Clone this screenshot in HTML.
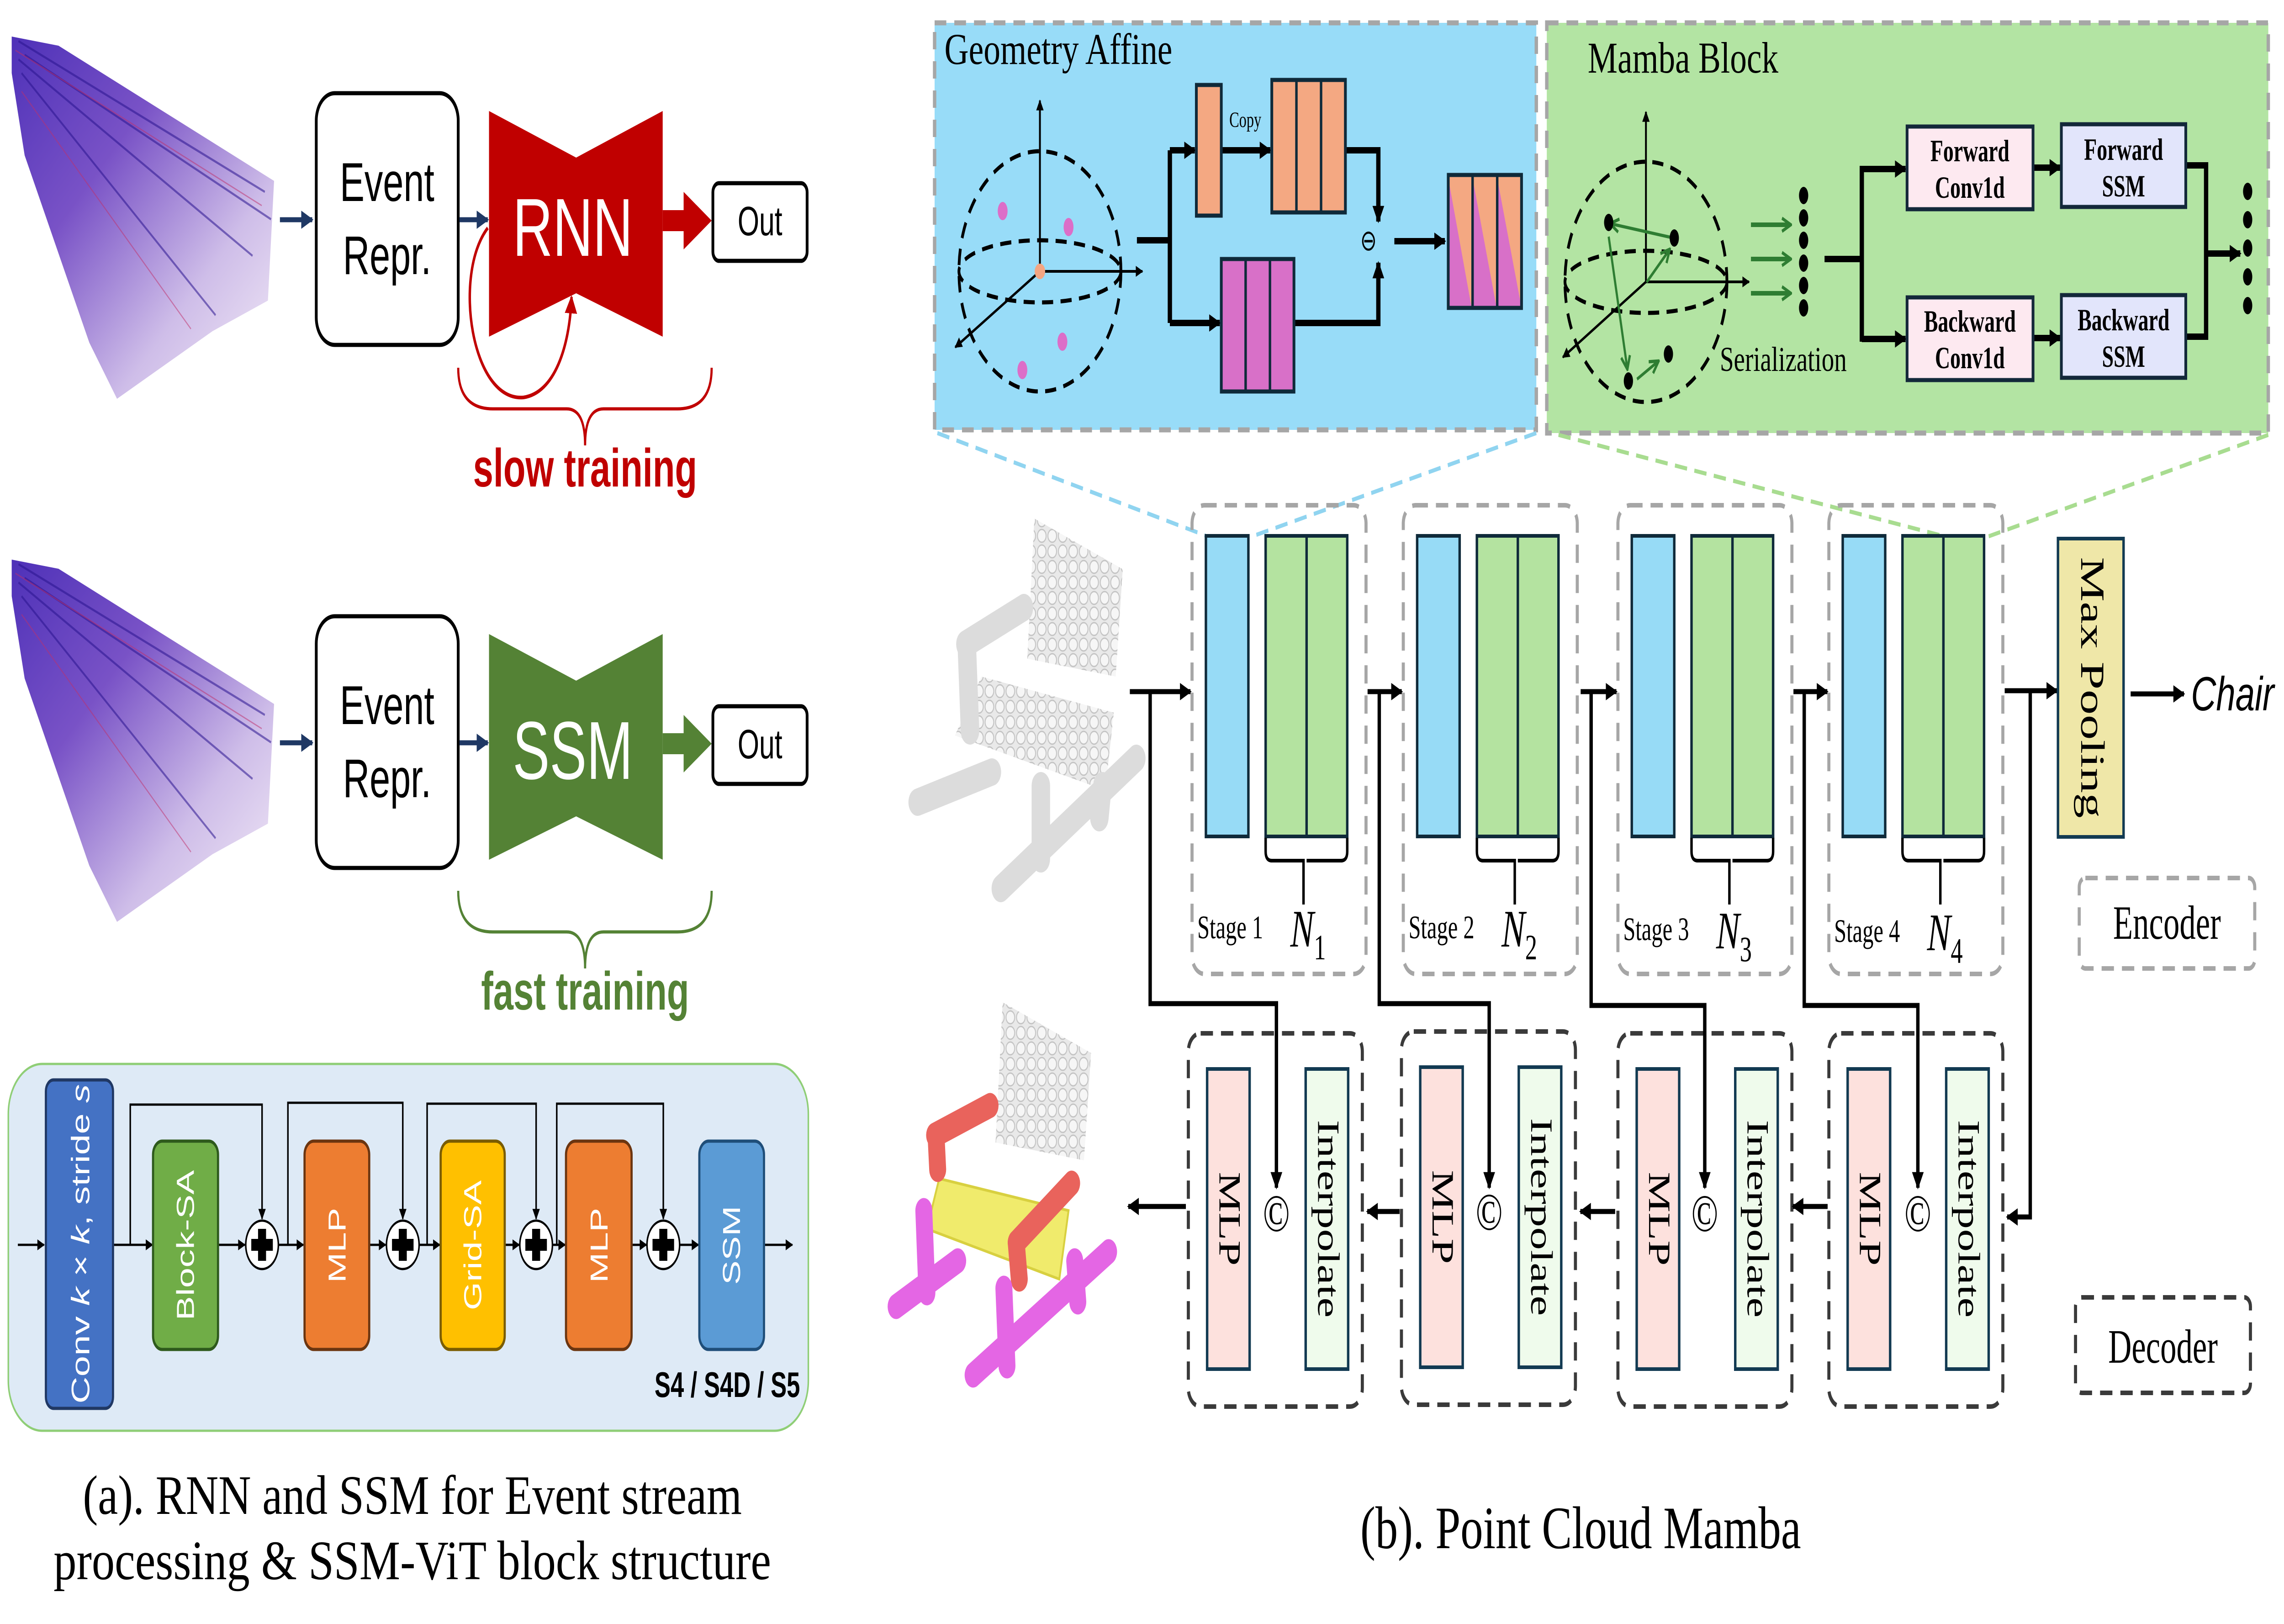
<!DOCTYPE html>
<html><head><meta charset="utf-8"><style>
html,body{margin:0;padding:0;background:#fff;width:100%;height:100%;overflow:hidden}
svg{display:block;width:100vw;height:100vh}
.ser{font-family:"Liberation Serif",serif}
.san{font-family:"Liberation Sans",sans-serif}
</style></head><body>
<svg viewBox="0 0 7417 3555" preserveAspectRatio="none" xmlns="http://www.w3.org/2000/svg">
<defs>
<marker id="ab" viewBox="0 0 10 10" refX="9" refY="5" markerWidth="42" markerHeight="38" markerUnits="userSpaceOnUse" orient="auto"><path d="M0,0L10,5L0,10z" fill="#000"/></marker>
<marker id="as" viewBox="0 0 10 10" refX="9" refY="5" markerWidth="26" markerHeight="24" markerUnits="userSpaceOnUse" orient="auto"><path d="M0,0L10,5L0,10z" fill="#000"/></marker>
<marker id="ag" viewBox="0 0 10 10" refX="8" refY="5" markerWidth="36" markerHeight="36" markerUnits="userSpaceOnUse" orient="auto"><path d="M1,1L9,5L1,9" fill="none" stroke="#2e7d32" stroke-width="2"/></marker>
<marker id="an" viewBox="0 0 10 10" refX="9" refY="5" markerWidth="40" markerHeight="40" markerUnits="userSpaceOnUse" orient="auto"><path d="M0,0L10,5L0,10z" fill="#1f3864"/></marker>
<marker id="ar" viewBox="0 0 10 10" refX="9" refY="5" markerWidth="40" markerHeight="44" markerUnits="userSpaceOnUse" orient="auto"><path d="M0,0L10,5L0,10z" fill="#c00000"/></marker>
<linearGradient id="ev" x1="0" y1="0" x2="1" y2="1">
<stop offset="0" stop-color="#3a1ab0"/><stop offset="0.35" stop-color="#6a3fc0"/><stop offset="0.7" stop-color="#c9b6e6"/><stop offset="1" stop-color="#f4ecf7"/></linearGradient>
<pattern id="dots" width="34" height="34" patternUnits="userSpaceOnUse"><rect width="34" height="34" fill="#e9e9e9"/><circle cx="17" cy="17" r="14" fill="#f6f6f6" stroke="#c4c4c4" stroke-width="3"/></pattern>
</defs>

<!-- ============ LEFT PANEL ============ -->
<g id="cloud">
<polygon points="38,80 190,100 890,396 870,658 690,725 380,873 290,750 80,340 38,160" fill="url(#ev)" opacity="0.9"/>
<g stroke="#2a1490" stroke-width="5" opacity="0.55">
<line x1="60" y1="90" x2="860" y2="420"/><line x1="60" y1="130" x2="820" y2="560"/><line x1="70" y1="160" x2="700" y2="690"/><line x1="80" y1="120" x2="880" y2="480"/></g>
<g stroke="#c0306a" stroke-width="3" opacity="0.5"><line x1="50" y1="110" x2="850" y2="450"/><line x1="70" y1="200" x2="620" y2="720"/></g>
</g>
<use href="#cloud" transform="translate(0,1145)"/>

<!-- row 1 -->
<line x1="909" y1="481" x2="1014" y2="481" stroke="#1f3864" stroke-width="11" marker-end="url(#an)"/>
<rect x="1027" y="204" width="461" height="551" rx="60" fill="#fff" stroke="#000" stroke-width="9"/>
<text x="1257" y="440" font-size="120" text-anchor="middle" class="san">Event</text>
<text x="1257" y="600" font-size="120" text-anchor="middle" class="san">Repr.</text>
<line x1="1492" y1="481" x2="1584" y2="481" stroke="#1f3864" stroke-width="11" marker-end="url(#an)"/>
<polygon points="1588,243 1871,345 2152,243 2152,737 1871,642 1588,737" fill="#c00000"/>
<text x="1860" y="560" font-size="180" fill="#fff" text-anchor="middle" class="san">RNN</text>
<path d="M2152,483 L2225,483" stroke="#c00000" stroke-width="46"/>
<polygon points="2220,420 2311,483 2220,546" fill="#c00000"/>
<rect x="2315" y="401" width="306" height="170" rx="20" fill="#fff" stroke="#000" stroke-width="9"/>
<text x="2468" y="515" font-size="90" text-anchor="middle" class="san">Out</text>
<path d="M1584,499 C1470,600 1530,880 1700,870 C1800,860 1850,760 1856,650" fill="none" stroke="#c00000" stroke-width="8" marker-end="url(#ar)"/>
<path d="M1488,805 Q1488,895 1600,895 L1840,895 Q1900,895 1900,975 Q1900,895 1960,895 L2200,895 Q2311,895 2311,805" fill="none" stroke="#c00000" stroke-width="7"/>
<text x="1900" y="1065" font-size="118" font-weight="bold" fill="#c00000" text-anchor="middle" class="san">slow training</text>

<!-- row 2 -->
<line x1="909" y1="1626" x2="1014" y2="1626" stroke="#1f3864" stroke-width="11" marker-end="url(#an)"/>
<rect x="1027" y="1349" width="461" height="551" rx="60" fill="#fff" stroke="#000" stroke-width="9"/>
<text x="1257" y="1585" font-size="120" text-anchor="middle" class="san">Event</text>
<text x="1257" y="1745" font-size="120" text-anchor="middle" class="san">Repr.</text>
<line x1="1492" y1="1626" x2="1584" y2="1626" stroke="#1f3864" stroke-width="11" marker-end="url(#an)"/>
<polygon points="1588,1388 1871,1490 2152,1388 2152,1882 1871,1787 1588,1882" fill="#548235"/>
<text x="1860" y="1705" font-size="180" fill="#fff" text-anchor="middle" class="san">SSM</text>
<path d="M2152,1628 L2225,1628" stroke="#548235" stroke-width="46"/>
<polygon points="2220,1565 2311,1628 2220,1691" fill="#548235"/>
<rect x="2315" y="1546" width="306" height="170" rx="20" fill="#fff" stroke="#000" stroke-width="9"/>
<text x="2468" y="1660" font-size="90" text-anchor="middle" class="san">Out</text>
<path d="M1488,1950 Q1488,2040 1600,2040 L1840,2040 Q1900,2040 1900,2120 Q1900,2040 1960,2040 L2200,2040 Q2311,2040 2311,1950" fill="none" stroke="#548235" stroke-width="7"/>
<text x="1900" y="2210" font-size="118" font-weight="bold" fill="#548235" text-anchor="middle" class="san">fast training</text>

<!-- SSM-ViT block -->
<rect x="27" y="2329" width="2598" height="803" rx="110" fill="#deeaf6" stroke="#8fce76" stroke-width="5"/>
<g stroke="#000" stroke-width="5" fill="none">
<line x1="58" y1="2725" x2="143" y2="2725" marker-end="url(#as)"/>
<line x1="367" y1="2725" x2="495" y2="2725" marker-end="url(#as)"/>
<line x1="708" y1="2725" x2="795" y2="2725" marker-end="url(#as)"/>
<line x1="905" y1="2725" x2="985" y2="2725" marker-end="url(#as)"/>
<line x1="1199" y1="2725" x2="1252" y2="2725" marker-end="url(#as)"/>
<line x1="1362" y1="2725" x2="1428" y2="2725" marker-end="url(#as)"/>
<line x1="1639" y1="2725" x2="1686" y2="2725" marker-end="url(#as)"/>
<line x1="1796" y1="2725" x2="1835" y2="2725" marker-end="url(#as)"/>
<line x1="2051" y1="2725" x2="2099" y2="2725" marker-end="url(#as)"/>
<line x1="2209" y1="2725" x2="2268" y2="2725" marker-end="url(#as)"/>
<line x1="2481" y1="2725" x2="2573" y2="2725" marker-end="url(#as)"/>
<polyline points="423,2725 423,2418 851,2418 851,2668" marker-end="url(#as)"/>
<polyline points="935,2725 935,2414 1308,2414 1308,2668" marker-end="url(#as)"/>
<polyline points="1387,2725 1387,2416 1741,2416 1741,2668" marker-end="url(#as)"/>
<polyline points="1808,2725 1808,2416 2154,2416 2154,2668" marker-end="url(#as)"/>
</g>
<g>
<circle cx="851" cy="2725" r="53" fill="#fff" stroke="#000" stroke-width="5"/>
<circle cx="1308" cy="2725" r="53" fill="#fff" stroke="#000" stroke-width="5"/>
<circle cx="1741" cy="2725" r="53" fill="#fff" stroke="#000" stroke-width="5"/>
<circle cx="2154" cy="2725" r="53" fill="#fff" stroke="#000" stroke-width="5"/>
<g fill="#000"><path d="M838,2690h26v22h22v26h-22v22h-26v-22h-22v-26h22z"/>
<path d="M1295,2690h26v22h22v26h-22v22h-26v-22h-22v-26h22z"/>
<path d="M1728,2690h26v22h22v26h-22v22h-26v-22h-22v-26h22z"/>
<path d="M2141,2690h26v22h22v26h-22v22h-26v-22h-22v-26h22z"/></g>
</g>
<rect x="149" y="2364" width="218" height="719" rx="25" fill="#4472c4" stroke="#203864" stroke-width="7"/>
<text transform="translate(290,2723) rotate(-90)" font-size="82" fill="#fff" text-anchor="middle" class="san">Conv <tspan font-style="italic">k</tspan> × <tspan font-style="italic">k</tspan>, stride <tspan font-style="italic">s</tspan></text>
<rect x="497" y="2498" width="211" height="456" rx="30" fill="#70ad47" stroke="#2e5a1c" stroke-width="7"/>
<text transform="translate(630,2726) rotate(-90)" font-size="80" fill="#fff" text-anchor="middle" class="san">Block-SA</text>
<rect x="989" y="2498" width="210" height="456" rx="30" fill="#ed7d31" stroke="#6b3510" stroke-width="7"/>
<text transform="translate(1122,2726) rotate(-90)" font-size="80" fill="#fff" text-anchor="middle" class="san">MLP</text>
<rect x="1431" y="2498" width="208" height="456" rx="30" fill="#ffc000" stroke="#7a5c00" stroke-width="7"/>
<text transform="translate(1563,2726) rotate(-90)" font-size="80" fill="#fff" text-anchor="middle" class="san">Grid-SA</text>
<rect x="1838" y="2498" width="213" height="456" rx="30" fill="#ed7d31" stroke="#6b3510" stroke-width="7"/>
<text transform="translate(1973,2726) rotate(-90)" font-size="80" fill="#fff" text-anchor="middle" class="san">MLP</text>
<rect x="2271" y="2498" width="210" height="456" rx="30" fill="#5b9bd5" stroke="#1f4e79" stroke-width="7"/>
<text transform="translate(2403,2726) rotate(-90)" font-size="80" fill="#fff" text-anchor="middle" class="san">SSM</text>
<text x="2598" y="3058" font-size="78" font-weight="bold" text-anchor="end" class="san">S4 / S4D / S5</text>

<text x="1339" y="3314" font-size="122" text-anchor="middle" class="ser" textLength="2140" lengthAdjust="spacingAndGlyphs">(a). RNN and SSM for Event stream</text>
<text x="1339" y="3457" font-size="122" text-anchor="middle" class="ser" textLength="2330" lengthAdjust="spacingAndGlyphs">processing &amp; SSM-ViT block structure</text>

<!-- ============ RIGHT PANEL ============ -->
<rect x="3035" y="50" width="1954" height="891" fill="#98dcf8" stroke="#a6a6a6" stroke-width="11" stroke-dasharray="38,26"/>
<text x="3067" y="140" font-size="96" class="ser" textLength="740" lengthAdjust="spacingAndGlyphs">Geometry Affine</text>
<g fill="none" stroke="#000" stroke-width="9" stroke-dasharray="36,24">
<circle cx="3377" cy="594" r="263"/>
<ellipse cx="3377" cy="594" rx="263" ry="68"/></g>
<g stroke="#000" stroke-width="6" fill="none">
<line x1="3377" y1="594" x2="3377" y2="220" marker-end="url(#as)"/>
<line x1="3377" y1="594" x2="3710" y2="594" marker-end="url(#as)"/>
<line x1="3377" y1="594" x2="3102" y2="760" marker-end="url(#as)"/></g>
<circle cx="3377" cy="594" r="17" fill="#f4a582"/>
<g fill="#dc6ec8"><ellipse cx="3256" cy="462" rx="16" ry="20"/><ellipse cx="3470" cy="497" rx="16" ry="20"/><ellipse cx="3450" cy="748" rx="16" ry="20"/><ellipse cx="3320" cy="810" rx="16" ry="20"/></g>
<g stroke="#000" stroke-width="14" fill="none">
<polyline points="3692,526 3799,526"/>
<polyline points="3799,329 3799,707"/>
<line x1="3799" y1="329" x2="3880" y2="329" marker-end="url(#ab)"/>
<line x1="3799" y1="707" x2="3961" y2="707" marker-end="url(#ab)"/>
<line x1="3966" y1="329" x2="4125" y2="329" marker-end="url(#ab)"/>
<polyline points="4369,329 4476,329 4476,485" marker-end="url(#ab)"/>
<polyline points="4202,707 4476,707 4476,575" marker-end="url(#ab)"/>
<line x1="4528" y1="528" x2="4692" y2="528" marker-end="url(#ab)"/>
</g>
<text x="4044" y="278" font-size="48" text-anchor="middle" class="ser">Copy</text>
<text x="4444" y="548" font-size="64" text-anchor="middle" class="ser">⊖</text>
<rect x="3885" y="186" width="81" height="286" fill="#f4a882" stroke="#0f2a3a" stroke-width="9"/>
<rect x="4130" y="175" width="239" height="290" fill="#f4a882" stroke="#0f2a3a" stroke-width="9"/>
<line x1="4210" y1="175" x2="4210" y2="465" stroke="#0f2a3a" stroke-width="8"/><line x1="4290" y1="175" x2="4290" y2="465" stroke="#0f2a3a" stroke-width="8"/>
<rect x="3966" y="567" width="236" height="290" fill="#d870c8" stroke="#0f2a3a" stroke-width="9"/>
<line x1="4045" y1="567" x2="4045" y2="857" stroke="#0f2a3a" stroke-width="8"/><line x1="4124" y1="567" x2="4124" y2="857" stroke="#0f2a3a" stroke-width="8"/>
<rect x="4703" y="383" width="238" height="291" fill="#f4a882"/>
<polygon points="4703,390 4779,674 4703,674" fill="#d870c8"/>
<polygon points="4782,390 4860,674 4782,674" fill="#d870c8"/>
<polygon points="4862,390 4941,674 4862,674" fill="#d870c8"/>
<rect x="4703" y="383" width="238" height="291" fill="none" stroke="#0f2a3a" stroke-width="9"/>
<line x1="4782" y1="383" x2="4782" y2="674" stroke="#0f2a3a" stroke-width="8"/><line x1="4862" y1="383" x2="4862" y2="674" stroke="#0f2a3a" stroke-width="8"/>

<!-- Mamba Block -->
<rect x="5023" y="50" width="2343" height="898" fill="#b3e4a3" stroke="#a6a6a6" stroke-width="11" stroke-dasharray="38,26"/>
<text x="5156" y="159" font-size="96" class="ser" textLength="619" lengthAdjust="spacingAndGlyphs">Mamba Block</text>
<g fill="none" stroke="#000" stroke-width="9" stroke-dasharray="36,24">
<circle cx="5345" cy="617" r="263"/>
<ellipse cx="5345" cy="617" rx="263" ry="68"/></g>
<g stroke="#000" stroke-width="6" fill="none">
<line x1="5345" y1="617" x2="5345" y2="245" marker-end="url(#as)"/>
<line x1="5345" y1="617" x2="5680" y2="617" marker-end="url(#as)"/>
<line x1="5345" y1="617" x2="5075" y2="782" marker-end="url(#as)"/></g>
<g stroke="#2e7d32" stroke-width="7" fill="none">
<line x1="5435" y1="521" x2="5232" y2="490" marker-end="url(#ag)"/>
<line x1="5224" y1="518" x2="5284" y2="805" marker-end="url(#ag)"/>
<line x1="5347" y1="618" x2="5420" y2="548" marker-end="url(#ag)"/>
<line x1="5316" y1="830" x2="5383" y2="792" marker-end="url(#ag)"/>
<line x1="5686" y1="492" x2="5812" y2="492" stroke-width="10" marker-end="url(#ag)"/>
<line x1="5686" y1="567" x2="5812" y2="567" stroke-width="10" marker-end="url(#ag)"/>
<line x1="5686" y1="642" x2="5812" y2="642" stroke-width="10" marker-end="url(#ag)"/></g>
<g fill="#000">
<ellipse cx="5224" cy="487" rx="15" ry="19"/><ellipse cx="5437" cy="521" rx="15" ry="19"/><ellipse cx="5288" cy="834" rx="15" ry="19"/><ellipse cx="5418" cy="775" rx="15" ry="19"/>
<ellipse cx="5857" cy="428" rx="15" ry="19"/><ellipse cx="5857" cy="477" rx="15" ry="19"/><ellipse cx="5857" cy="526" rx="15" ry="19"/><ellipse cx="5857" cy="576" rx="15" ry="19"/><ellipse cx="5857" cy="625" rx="15" ry="19"/><ellipse cx="5857" cy="674" rx="15" ry="19"/>
<ellipse cx="7299" cy="419" rx="15" ry="19"/><ellipse cx="7299" cy="481" rx="15" ry="19"/><ellipse cx="7299" cy="543" rx="15" ry="19"/><ellipse cx="7299" cy="606" rx="15" ry="19"/><ellipse cx="7299" cy="669" rx="15" ry="19"/>
</g>
<text x="5585" y="812" font-size="76" class="ser" textLength="412" lengthAdjust="spacingAndGlyphs">Serialization</text>
<g stroke="#000" stroke-width="14" fill="none">
<line x1="5925" y1="567" x2="6046" y2="567"/>
<line x1="6046" y1="363" x2="6046" y2="748"/>
<line x1="6046" y1="370" x2="6188" y2="370" marker-end="url(#ab)"/>
<line x1="6046" y1="742" x2="6188" y2="742" marker-end="url(#ab)"/>
<line x1="6602" y1="367" x2="6690" y2="367" marker-end="url(#ab)"/>
<line x1="6602" y1="740" x2="6690" y2="740" marker-end="url(#ab)"/>
<polyline points="7098,362 7164,362 7164,737 7098,737"/>
<line x1="7164" y1="555" x2="7275" y2="555" marker-end="url(#ab)"/>
</g>
<rect x="6193" y="277" width="409" height="181" fill="#fde9f0" stroke="#13283a" stroke-width="9"/>
<rect x="6694" y="272" width="404" height="181" fill="#e2e5fb" stroke="#13283a" stroke-width="9"/>
<rect x="6193" y="651" width="409" height="181" fill="#fde9f0" stroke="#13283a" stroke-width="9"/>
<rect x="6694" y="646" width="404" height="181" fill="#e2e5fb" stroke="#13283a" stroke-width="9"/>
<g class="ser" font-weight="bold" font-size="68" text-anchor="middle">
<text x="6397" y="353">Forward</text><text x="6397" y="433">Conv1d</text>
<text x="6896" y="350">Forward</text><text x="6896" y="430">SSM</text>
<text x="6397" y="726">Backward</text><text x="6397" y="806">Conv1d</text>
<text x="6896" y="723">Backward</text><text x="6896" y="803">SSM</text></g>

<line x1="3044" y1="948" x2="3914" y2="1172" stroke="#90d4f0" stroke-width="9" stroke-dasharray="40,24"/>
<line x1="4989" y1="948" x2="4075" y2="1172" stroke="#90d4f0" stroke-width="9" stroke-dasharray="40,24"/>
<line x1="5061" y1="952" x2="6314" y2="1174" stroke="#a8dc90" stroke-width="9" stroke-dasharray="40,24"/>
<line x1="7366" y1="952" x2="6458" y2="1174" stroke="#a8dc90" stroke-width="9" stroke-dasharray="40,24"/>

<!-- chairs -->
<g>
<polygon points="3359,1135 3646,1246 3623,1481 3336,1442" fill="url(#dots)"/>
<polygon points="3187,1481 3617,1560 3589,1730 3101,1610" fill="url(#dots)"/>
<g stroke="#dcdcdc" stroke-width="60" stroke-linecap="round" fill="none">
<line x1="3135" y1="1410" x2="3325" y2="1330"/>
<line x1="3140" y1="1420" x2="3150" y2="1600"/>
<line x1="2980" y1="1756" x2="3221" y2="1690"/>
<line x1="3250" y1="1945" x2="3690" y2="1660"/>
<line x1="3380" y1="1720" x2="3380" y2="1880"/>
<line x1="3580" y1="1720" x2="3570" y2="1790"/>
</g>
</g>
<g>
<polygon points="3256,2194 3543,2305 3520,2540 3233,2501" fill="url(#dots)"/>
<polygon points="3050,2580 3470,2650 3440,2800 3010,2690" fill="#f0eb6c" stroke="#d8d040" stroke-width="6"/>
<g stroke-width="55" stroke-linecap="round" fill="none">
<line x1="3035" y1="2485" x2="3215" y2="2420" stroke="#e9635c"/>
<line x1="3040" y1="2490" x2="3045" y2="2560" stroke="#e9635c"/>
<line x1="3300" y1="2720" x2="3480" y2="2590" stroke="#e9635c"/>
<line x1="3300" y1="2720" x2="3310" y2="2800" stroke="#e9635c"/>
<line x1="2910" y1="2860" x2="3110" y2="2760" stroke="#e466e4"/>
<line x1="3000" y1="2650" x2="3010" y2="2830" stroke="#e466e4"/>
<line x1="3160" y1="3010" x2="3600" y2="2740" stroke="#e466e4"/>
<line x1="3260" y1="2820" x2="3270" y2="2990" stroke="#e466e4"/>
<line x1="3490" y1="2760" x2="3500" y2="2850" stroke="#e466e4"/>
</g></g>

<!-- encoder stages -->
<g id="stage">
<rect x="3871" y="1106" width="565" height="1026" rx="40" fill="none" stroke="#a6a6a6" stroke-width="10" stroke-dasharray="40,26"/>
<rect x="3916" y="1173" width="138" height="658" fill="#97dbf6" stroke="#0f2a3a" stroke-width="8"/>
<rect x="4110" y="1173" width="265" height="658" fill="#b4e3a0" stroke="#0f2a3a" stroke-width="8"/>
<line x1="4243" y1="1173" x2="4243" y2="1831" stroke="#0f2a3a" stroke-width="8"/>
<path d="M4110,1834 v30 q0,20 20,20 h103 v96 M4375,1834 v30 q0,20 -20,20 h-112" fill="none" stroke="#000" stroke-width="8"/>
</g>
<use href="#stage" transform="translate(686,0)"/>
<use href="#stage" transform="translate(1383,0)"/>
<use href="#stage" transform="translate(2068,0)"/>
<g class="ser" font-size="72">
<text x="3888" y="2054">Stage 1</text><text x="4574" y="2054">Stage 2</text><text x="5271" y="2058">Stage 3</text><text x="5956" y="2062">Stage 4</text></g>
<g class="ser" font-size="115" font-style="italic">
<text x="4190" y="2072">N<tspan font-size="78" font-style="normal" dy="28">1</tspan></text>
<text x="4876" y="2072">N<tspan font-size="78" font-style="normal" dy="28">2</tspan></text>
<text x="5573" y="2076">N<tspan font-size="78" font-style="normal" dy="28">3</tspan></text>
<text x="6258" y="2080">N<tspan font-size="78" font-style="normal" dy="28">4</tspan></text></g>

<!-- decoder boxes -->
<g id="dec">
<rect x="3859" y="2262" width="565" height="817" rx="40" fill="none" stroke="#3a3a3a" stroke-width="10" stroke-dasharray="40,26"/>
<rect x="3920" y="2340" width="138" height="657" fill="#fde1dd" stroke="#123a52" stroke-width="8"/>
<rect x="4240" y="2340" width="138" height="657" fill="#effbec" stroke="#123a52" stroke-width="8"/>
</g>
<use href="#dec" transform="translate(692,-4)"/>
<use href="#dec" transform="translate(1395,0)"/>
<use href="#dec" transform="translate(2080,0)"/>
<g class="ser" font-size="100">
<text transform="translate(3960,2668) rotate(90)" text-anchor="middle">MLP</text>
<text transform="translate(4280,2668) rotate(90)" text-anchor="middle">Interpolate</text>
<text transform="translate(4652,2664) rotate(90)" text-anchor="middle">MLP</text>
<text transform="translate(4972,2664) rotate(90)" text-anchor="middle">Interpolate</text>
<text transform="translate(5355,2668) rotate(90)" text-anchor="middle">MLP</text>
<text transform="translate(5675,2668) rotate(90)" text-anchor="middle">Interpolate</text>
<text transform="translate(6040,2668) rotate(90)" text-anchor="middle">MLP</text>
<text transform="translate(6360,2668) rotate(90)" text-anchor="middle">Interpolate</text>
</g>
<g class="ser" font-size="115" text-anchor="middle">
<text x="4145" y="2695">©</text><text x="4836" y="2692">©</text><text x="5536" y="2695">©</text><text x="6228" y="2695">©</text></g>

<!-- connectors -->
<g stroke="#000" stroke-width="11" fill="none">
<line x1="3669" y1="1514" x2="3866" y2="1514" marker-end="url(#ab)"/>
<polyline points="3735,1514 3735,2197 4145,2197 4145,2600" marker-end="url(#ab)"/>
<line x1="4441" y1="1514" x2="4552" y2="1514" marker-end="url(#ab)"/>
<polyline points="4479,1514 4479,2197 4836,2197 4836,2600" marker-end="url(#ab)"/>
<line x1="5133" y1="1514" x2="5249" y2="1514" marker-end="url(#ab)"/>
<polyline points="5167,1514 5167,2201 5536,2201 5536,2600" marker-end="url(#ab)"/>
<line x1="5824" y1="1514" x2="5934" y2="1514" marker-end="url(#ab)"/>
<polyline points="5859,1514 5859,2201 6228,2201 6228,2600" marker-end="url(#ab)"/>
<line x1="6510" y1="1512" x2="6680" y2="1512" marker-end="url(#ab)"/>
<polyline points="6593,1512 6593,2664 6518,2664" marker-end="url(#ab)"/>
<line x1="6919" y1="1519" x2="7092" y2="1519" marker-end="url(#ab)"/>
<line x1="3851" y1="2641" x2="3664" y2="2641" marker-end="url(#ab)"/>
<line x1="4545" y1="2652" x2="4440" y2="2652" marker-end="url(#ab)"/>
<line x1="5245" y1="2652" x2="5132" y2="2652" marker-end="url(#ab)"/>
<line x1="5935" y1="2641" x2="5822" y2="2641" marker-end="url(#ab)"/>
</g>

<rect x="6683" y="1179" width="213" height="653" fill="#efe7a8" stroke="#123a52" stroke-width="8"/>
<text transform="translate(6758,1505) rotate(90)" font-size="110" text-anchor="middle" class="ser">Max Pooling</text>
<text x="7115" y="1555" font-size="105" font-style="italic" class="san" textLength="270" lengthAdjust="spacingAndGlyphs">Chair</text>
<rect x="6752" y="1922" width="570" height="198" rx="20" fill="none" stroke="#a6a6a6" stroke-width="10" stroke-dasharray="40,26"/>
<text x="7037" y="2055" font-size="105" text-anchor="middle" class="ser">Encoder</text>
<rect x="6740" y="2840" width="568" height="209" rx="20" fill="none" stroke="#3a3a3a" stroke-width="10" stroke-dasharray="40,26"/>
<text x="7024" y="2983" font-size="105" text-anchor="middle" class="ser">Decoder</text>

<text x="5133" y="3389" font-size="132" text-anchor="middle" class="ser" textLength="1431" lengthAdjust="spacingAndGlyphs">(b). Point Cloud Mamba</text>
</svg>
</body></html>
